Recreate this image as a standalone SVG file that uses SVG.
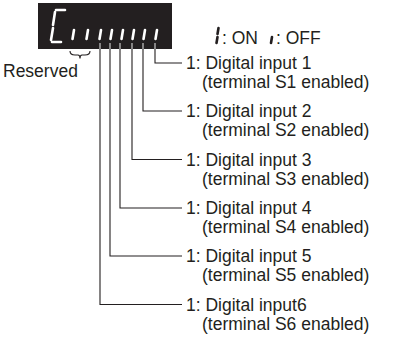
<svg xmlns="http://www.w3.org/2000/svg" width="395" height="345" viewBox="0 0 395 345">
<style>
text{font-family:"Liberation Sans",Arial,sans-serif;font-size:17.5px;fill:#231f20}
.seg{stroke:#fff;stroke-width:2.6;stroke-linecap:round;fill:none}
.stub{stroke:#c8c8c8;stroke-width:1.2}
.wire{stroke:#231f20;stroke-width:1.1;fill:none}
.key{stroke:#231f20;stroke-width:2.6;stroke-linecap:round;fill:none}
</style>
<g id="display">
<rect x="38" y="3" width="134" height="46" fill="#231f20"/>
<path class="seg" d="M56,10 L65,10 M55,12 L53,25 M53,28 L51,40 M52,42 L61,42"/>
<path class="seg" d="M74,30 L72.5,39 M88,30 L86.5,39 M101,30 L99.5,39 M112,30 L110.5,39 M123,30 L121.5,39 M134,30 L132.5,39 M145,30 L143.5,39 M157,30 L155.5,39"/>
<path class="stub" d="M100,43 V49 M110,43 V49 M120,43 V49 M132,43 V49 M143,43 V49 M155,43 V49"/>
</g>
<g id="reserved">
<path class="wire" d="M70,51 Q70,55 75,55 L78,55 Q80,55 80,58.5 Q80,55 82,55 L85,55 Q90,55 90,51"/>
<text x="3" y="77">Reserved</text>
</g>
<g id="legend">
<path class="key" d="M218.5,28 L217.5,34 M217.5,37 L216.5,43"/>
<text x="222" y="44" font-size="16">: ON</text>
<path class="key" d="M272,37 L271,43"/>
<text x="276" y="44" font-size="16">: OFF</text>
</g>
<g id="connectors">
<path class="wire" d="M155,49 V63 H182"/>
<path class="wire" d="M143,49 V111 H182"/>
<path class="wire" d="M132,49 V159.5 H182"/>
<path class="wire" d="M120,49 V208 H182"/>
<path class="wire" d="M110,49 V256 H182"/>
<path class="wire" d="M100,49 V304.5 H182"/>
</g>
<g id="bit1"><text x="186" y="69">1: Digital input 1</text><text x="202" y="88">(terminal S1 enabled)</text></g>
<g id="bit2"><text x="186" y="117">1: Digital input 2</text><text x="202" y="136">(terminal S2 enabled)</text></g>
<g id="bit3"><text x="186" y="165.5">1: Digital input 3</text><text x="202" y="184.5">(terminal S3 enabled)</text></g>
<g id="bit4"><text x="186" y="214">1: Digital input 4</text><text x="202" y="233">(terminal S4 enabled)</text></g>
<g id="bit5"><text x="186" y="262">1: Digital input 5</text><text x="202" y="281">(terminal S5 enabled)</text></g>
<g id="bit6"><text x="186" y="310.5">1: Digital input6</text><text x="202" y="329.5">(terminal S6 enabled)</text></g>
</svg>
